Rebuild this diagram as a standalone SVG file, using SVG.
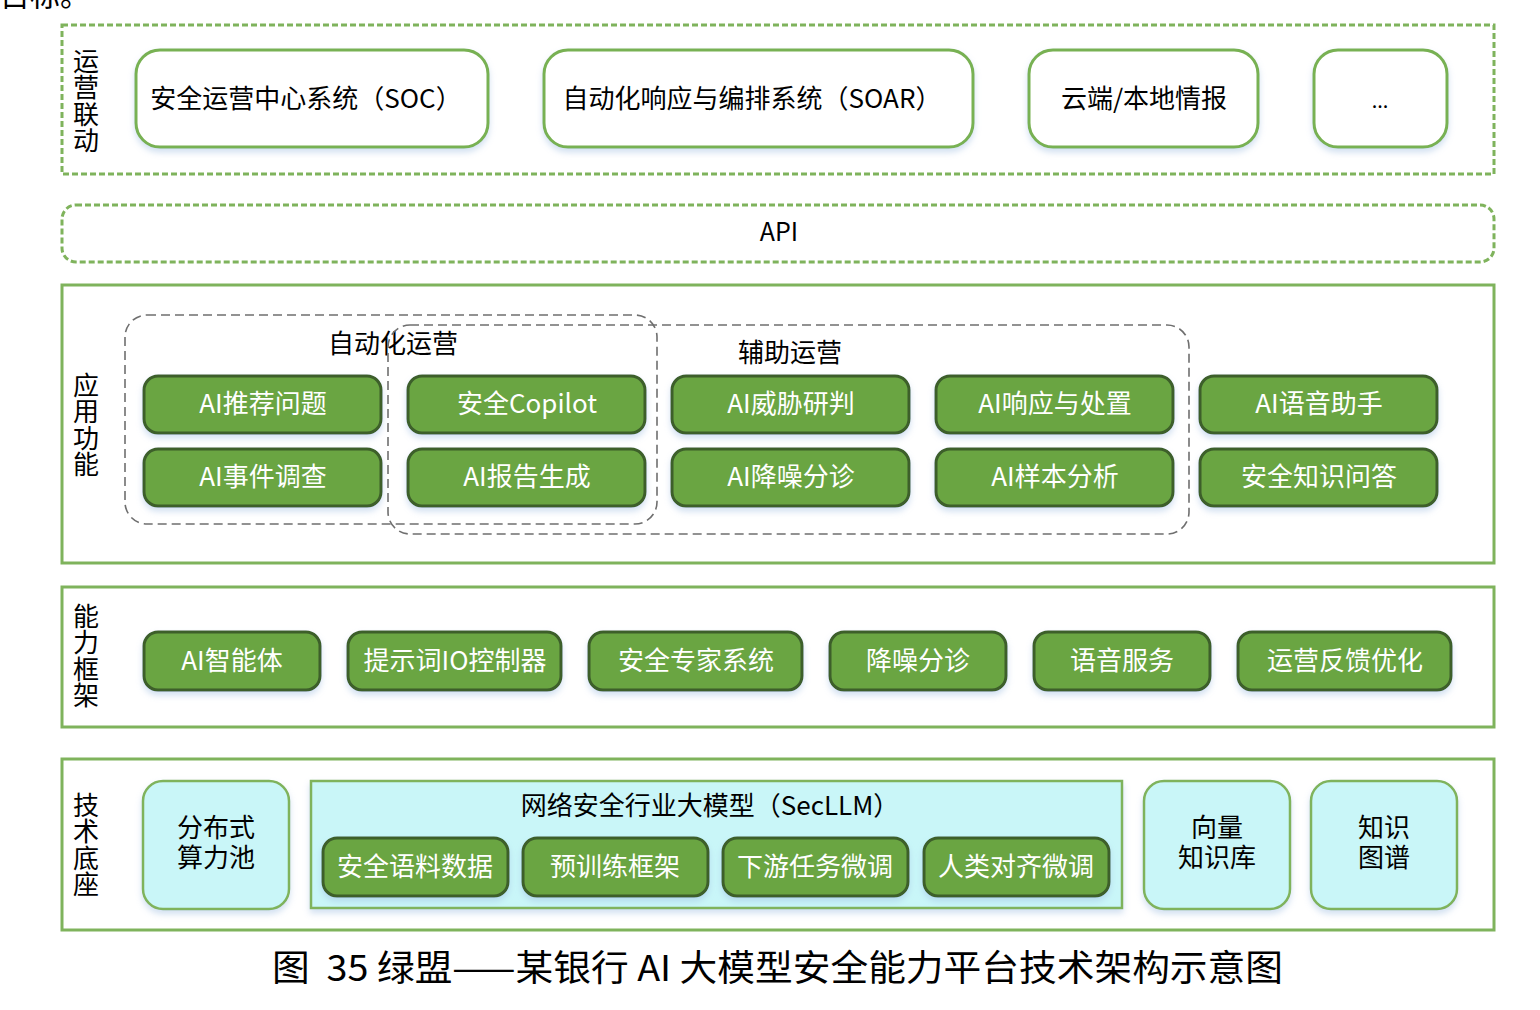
<svg xmlns="http://www.w3.org/2000/svg" width="1540" height="1010" viewBox="0 0 1540 1010">
<defs>
<filter id="sh" x="-10%" y="-20%" width="120%" height="150%">
<feDropShadow dx="0" dy="4" stdDeviation="3" flood-color="#9bbbe0" flood-opacity="0.45"/>
</filter>
<style>
text{font-family:"Microsoft YaHei","Noto Sans CJK SC","Noto Sans",sans-serif;}
.lbl{font-size:26px;fill:#000;text-anchor:middle;}
.vl{font-size:26px;fill:#000;writing-mode:tb;text-anchor:start;letter-spacing:0.5px;}
.wt{font-size:26px;fill:#fff;text-anchor:middle;}
.frame{fill:#fff;stroke:#7fb35c;stroke-width:3;}
.dframe{fill:#fff;stroke:#7fb35c;stroke-width:3;stroke-dasharray:6 3;}
.wnode{fill:#fff;stroke:#78b152;stroke-width:3;filter:url(#sh);}
.gnode{fill:#6aa543;stroke:#3d5f2a;stroke-width:3;filter:url(#sh);}
.cnode{fill:#c9f6f8;stroke:#7fb35c;stroke-width:2.5;filter:url(#sh);}
.grp{fill:none;stroke:#6f6f6f;stroke-width:1.6;stroke-dasharray:9 5;}
</style>
</defs>
<rect width="1540" height="1010" fill="#fff"/>
<text x="0" y="6" style="font-size:30px;fill:#000;">目标。</text>

<!-- Layer frames -->
<g id="layer-ops">
<rect class="dframe" x="62" y="25" width="1432" height="149"/>
<text class="vl" x="86" y="48" writing-mode="tb">运营联动</text>
</g>
<g id="layer-api">
<rect class="dframe" x="62" y="205" width="1432" height="57" rx="14"/>
<text class="lbl" x="779" y="241" style="font-size:25px;">API</text>
</g>
<g id="layer-app">
<rect class="frame" x="62" y="285" width="1432" height="278"/>
<text class="vl" x="86" y="372" writing-mode="tb">应用功能</text>
</g>
<g id="layer-cap">
<rect class="frame" x="62" y="587" width="1432" height="140"/>
<text class="vl" x="86" y="603" writing-mode="tb">能力框架</text>
</g>
<g id="layer-tech">
<rect class="frame" x="62" y="759" width="1432" height="171"/>
<text class="vl" x="86" y="792" writing-mode="tb">技术底座</text>
</g>

<!-- Ops nodes -->
<g id="n-soc"><rect class="wnode" x="136" y="50" width="352" height="97" rx="24"/><text class="lbl" x="306" y="108">安全运营中心系统（SOC）</text></g>
<g id="n-soar"><rect class="wnode" x="544" y="50" width="429" height="97" rx="24"/><text class="lbl" x="752" y="108">自动化响应与编排系统（SOAR）</text></g>
<g id="n-intel"><rect class="wnode" x="1029" y="50" width="229" height="97" rx="24"/><text class="lbl" x="1144" y="108">云端/本地情报</text></g>
<g id="n-more"><rect class="wnode" x="1314" y="50" width="133" height="97" rx="24"/><text class="lbl" x="1380" y="108" style="font-size:20px;">...</text></g>

<!-- App groups -->
<g id="g-auto">
<rect class="grp" x="125" y="315" width="532" height="209" rx="22"/>
<text class="lbl" x="393" y="353">自动化运营</text>
</g>
<g id="g-assist">
<rect class="grp" x="388" y="325" width="801" height="209" rx="22"/>
<text class="lbl" x="790" y="362">辅助运营</text>
</g>

<!-- App nodes -->
<g id="a1"><rect class="gnode" x="144" y="376" width="237" height="57" rx="14"/><text class="wt" x="263" y="413">AI推荐问题</text></g>
<g id="a2"><rect class="gnode" x="408" y="376" width="237" height="57" rx="14"/><text class="wt" x="527" y="413">安全Copilot</text></g>
<g id="a3"><rect class="gnode" x="672" y="376" width="237" height="57" rx="14"/><text class="wt" x="791" y="413">AI威胁研判</text></g>
<g id="a4"><rect class="gnode" x="936" y="376" width="237" height="57" rx="14"/><text class="wt" x="1055" y="413">AI响应与处置</text></g>
<g id="a5"><rect class="gnode" x="1200" y="376" width="237" height="57" rx="14"/><text class="wt" x="1319" y="413">AI语音助手</text></g>
<g id="a6"><rect class="gnode" x="144" y="449" width="237" height="57" rx="14"/><text class="wt" x="263" y="486">AI事件调查</text></g>
<g id="a7"><rect class="gnode" x="408" y="449" width="237" height="57" rx="14"/><text class="wt" x="527" y="486">AI报告生成</text></g>
<g id="a8"><rect class="gnode" x="672" y="449" width="237" height="57" rx="14"/><text class="wt" x="791" y="486">AI降噪分诊</text></g>
<g id="a9"><rect class="gnode" x="936" y="449" width="237" height="57" rx="14"/><text class="wt" x="1055" y="486">AI样本分析</text></g>
<g id="a10"><rect class="gnode" x="1200" y="449" width="237" height="57" rx="14"/><text class="wt" x="1319" y="486">安全知识问答</text></g>

<!-- Capability nodes -->
<g id="c1"><rect class="gnode" x="144" y="632" width="176" height="58" rx="14"/><text class="wt" x="232" y="670">AI智能体</text></g>
<g id="c2"><rect class="gnode" x="348" y="632" width="213" height="58" rx="14"/><text class="wt" x="455" y="670">提示词IO控制器</text></g>
<g id="c3"><rect class="gnode" x="589" y="632" width="213" height="58" rx="14"/><text class="wt" x="696" y="670">安全专家系统</text></g>
<g id="c4"><rect class="gnode" x="830" y="632" width="176" height="58" rx="14"/><text class="wt" x="918" y="670">降噪分诊</text></g>
<g id="c5"><rect class="gnode" x="1034" y="632" width="176" height="58" rx="14"/><text class="wt" x="1122" y="670">语音服务</text></g>
<g id="c6"><rect class="gnode" x="1238" y="632" width="213" height="58" rx="14"/><text class="wt" x="1345" y="670">运营反馈优化</text></g>

<!-- Tech nodes -->
<g id="t1"><rect class="cnode" x="143" y="781" width="146" height="128" rx="20"/><text class="lbl"><tspan x="216" y="837">分布式</tspan><tspan x="216" y="867">算力池</tspan></text></g>
<g id="t2">
<rect class="cnode" x="311" y="781" width="811" height="127"/>
<text class="lbl" x="710" y="815">网络安全行业大模型（SecLLM）</text>
</g>
<g id="t2a"><rect class="gnode" x="323" y="838" width="185" height="58" rx="14"/><text class="wt" x="415" y="876">安全语料数据</text></g>
<g id="t2b"><rect class="gnode" x="523" y="838" width="185" height="58" rx="14"/><text class="wt" x="615" y="876">预训练框架</text></g>
<g id="t2c"><rect class="gnode" x="723" y="838" width="185" height="58" rx="14"/><text class="wt" x="815" y="876">下游任务微调</text></g>
<g id="t2d"><rect class="gnode" x="924" y="838" width="185" height="58" rx="14"/><text class="wt" x="1016" y="876">人类对齐微调</text></g>
<g id="t3"><rect class="cnode" x="1144" y="781" width="146" height="128" rx="20"/><text class="lbl"><tspan x="1217" y="837">向量</tspan><tspan x="1217" y="867">知识库</tspan></text></g>
<g id="t4"><rect class="cnode" x="1311" y="781" width="146" height="128" rx="20"/><text class="lbl"><tspan x="1384" y="837">知识</tspan><tspan x="1384" y="867">图谱</tspan></text></g>

<g id="connectors"></g>

<text x="272" y="981" xml:space="preserve" textLength="1011" lengthAdjust="spacingAndGlyphs" style="font-size:36px;fill:#000;">图  35 绿盟——某银行 AI 大模型安全能力平台技术架构示意图</text>
</svg>
